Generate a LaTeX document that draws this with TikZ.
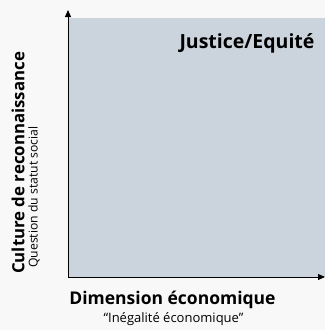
\documentclass[tikz,border=0pt]{standalone}
\usepackage{fontspec}
\setmainfont{Open Sans}
\usetikzlibrary{arrows.meta}
\definecolor{bg}{HTML}{F8F8F8}
\definecolor{boxc}{HTML}{CBD3DC}
\begin{document}
\begin{tikzpicture}[x=1pt,y=-1pt,
  axis/.style={line width=1pt,-{Triangle[length=7pt,width=6pt]}},
  title/.style={font=\bfseries\fontsize{17.5}{20}\selectfont,inner sep=0pt},
  sub/.style={font=\fontsize{13}{15}\selectfont,inner sep=0pt}]
\fill[bg] (0,0) rectangle (325,330);
\useasboundingbox (0,0) rectangle (325,330);
\fill[boxc] (68,18) rectangle (325,277);
\coordinate (o) at (68,277);
\coordinate (ytip) at (68,10);
\coordinate (xtip) at (325,277);
\draw[axis] (o) -- (ytip);
\draw[axis] (o) -- (xtip);
\node[title,font=\bfseries\fontsize{19.5}{22}\selectfont,anchor=center] (just) at (247,43) {Justice/Equité};
\node[title,font=\bfseries\fontsize{16.8}{20}\selectfont,rotate=90,anchor=west] (cult) at (18,274) {Culture de reconnaissance};
\node[sub,font=\fontsize{12.2}{15}\selectfont,rotate=90,anchor=west] (quest) at (34,268) {Question du statut social};
\node[title,anchor=center] (dim) at (172.5,300) {Dimension économique};
\node[sub,anchor=center] (ineg) at (173.5,319) {“Inégalité économique”};
\end{tikzpicture}
\end{document}
